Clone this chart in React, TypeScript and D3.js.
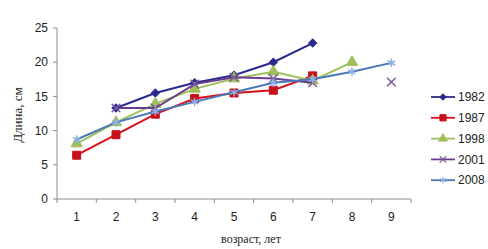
import { useRef, useEffect } from "react";
import * as d3 from "d3";

const ages = ["1", "2", "3", "4", "5", "6", "7", "8", "9"];
const yTicks = [0, 5, 10, 15, 20, 25];

const s1982 = [null, 13.3, 15.5, 17.0, 18.1, 20.0, 22.8, null, null];
const s1987 = [6.4, 9.4, 12.4, 14.7, 15.5, 15.9, 18.0, null, null];
const s1998 = [8.1, 11.2, 13.9, 16.1, 17.6, 18.6, 17.3, 20.0, null];
const s2001 = [null, 13.3, 13.3, 16.8, 17.8, 17.6, 17.0, null, 17.1];
const s2008 = [8.7, 11.2, 12.8, 14.2, 15.6, 17.0, 17.5, 18.6, 19.9];

type Series = { name: string; values: (number | null)[]; color: string; marker: string; symbol: d3.SymbolType; size: number; fill: boolean; rot: number };

const series: Series[] = [
  { name: "1982", values: s1982, color: "#2a2a8e", marker: "#2a2a8e", symbol: d3.symbolSquare, size: 32, fill: true, rot: 45 },
  { name: "1987", values: s1987, color: "#d8101c", marker: "#c8101c", symbol: d3.symbolSquare, size: 64, fill: true, rot: 0 },
  { name: "1998", values: s1998, color: "#9fbf5a", marker: "#9fbf5a", symbol: d3.symbolTriangle, size: 55, fill: true, rot: 0 },
  { name: "2001", values: s2001, color: "#6a3d8c", marker: "#7a5a9c", symbol: d3.symbolTimes, size: 50, fill: false, rot: 0 },
  { name: "2008", values: s2008, color: "#4a78b8", marker: "#8eb0e4", symbol: d3.symbolAsterisk, size: 50, fill: false, rot: 0 },
];

const W = 488;
const H = 249;
const left = 57;
const right = 411;
const top = 28;
const bottom = 199;

export default function App() {
  const ref = useRef<SVGSVGElement | null>(null);

  useEffect(() => {
    if (!ref.current) return;
    const svg = d3.select(ref.current);
    svg.selectAll("*").remove();

    const band = d3.scaleBand<string>().domain(ages).range([left, right]);
    const x = (a: string) => (band(a) ?? 0) + band.bandwidth() / 2;
    const y = d3.scaleLinear().domain([0, 25]).range([bottom, top]);

    const axisColor = "#8c8c8c";
    const labelFont = "Arial, 'Liberation Sans', sans-serif";
    const serif = "'Liberation Serif', 'DejaVu Serif', serif";

    // y axis
    svg.append("line").attr("x1", left).attr("x2", left).attr("y1", y(25)).attr("y2", bottom)
      .attr("stroke", axisColor).attr("stroke-width", 1);
    yTicks.forEach((t) => {
      svg.append("line").attr("x1", left - 4).attr("x2", left).attr("y1", y(t)).attr("y2", y(t))
        .attr("stroke", axisColor);
      svg.append("text").attr("x", left - 9).attr("y", y(t)).attr("dy", "0.35em")
        .attr("text-anchor", "end").attr("font-family", labelFont).attr("font-size", 12)
        .attr("fill", "#222").text(t);
    });

    // x axis
    svg.append("line").attr("x1", left).attr("x2", right).attr("y1", bottom).attr("y2", bottom)
      .attr("stroke", axisColor);
    const bounds = ages.map((a) => band(a) ?? 0).concat([right]);
    bounds.forEach((b) => {
      svg.append("line").attr("x1", b).attr("x2", b).attr("y1", bottom).attr("y2", bottom + 4)
        .attr("stroke", axisColor);
    });
    ages.forEach((a) => {
      svg.append("text").attr("x", x(a)).attr("y", 221).attr("text-anchor", "middle")
        .attr("font-family", labelFont).attr("font-size", 12).attr("fill", "#222").text(a);
    });

    // axis titles
    svg.append("text").attr("x", 251).attr("y", 243).attr("text-anchor", "middle")
      .attr("font-family", serif).attr("font-size", 12)
      .attr("fill", "#222").text("возраст, лет");
    svg.append("text").attr("transform", `translate(22,115) rotate(-90)`).attr("text-anchor", "middle")
      .attr("font-family", serif).attr("font-size", 13)
      .attr("fill", "#222").text("Длина, см");

    const line = d3.line<number | null>()
      .defined((d) => d !== null)
      .x((_, i) => x(ages[i]))
      .y((d) => y(d as number));

    series.forEach((s) => {
      svg.append("path").attr("d", line(s.values) ?? "").attr("fill", "none")
        .attr("stroke", s.color).attr("stroke-width", 2);
      const sym = d3.symbol().type(s.symbol).size(s.size);
      s.values.forEach((v, i) => {
        if (v === null) return;
        svg.append("path").attr("d", sym() ?? "")
          .attr("transform", `translate(${x(ages[i])},${y(v)}) rotate(${s.rot})`)
          .attr("fill", s.fill ? s.marker : "none")
          .attr("stroke", s.marker).attr("stroke-width", s.fill ? 1 : 1.5);
      });
    });

    // legend
    series.forEach((s, i) => {
      const ly = 97 + i * 20.8;
      svg.append("line").attr("x1", 431).attr("x2", 455).attr("y1", ly).attr("y2", ly)
        .attr("stroke", s.color).attr("stroke-width", 1.8);
      svg.append("path").attr("d", d3.symbol().type(s.symbol).size(s.size * 0.6)() ?? "")
        .attr("transform", `translate(443,${ly}) rotate(${s.rot})`)
        .attr("fill", s.fill ? s.marker : "none").attr("stroke", s.marker)
        .attr("stroke-width", s.fill ? 1 : 1.2);
      svg.append("text").attr("x", 458).attr("y", ly).attr("dy", "0.35em")
        .attr("font-family", labelFont).attr("font-size", 12).attr("fill", "#222").text(s.name);
    });
  }, []);

  return (
    <svg ref={ref} width={W} height={H}
      style={{ position: "absolute", left: 0, top: 0, background: "#fff" }} />
  );
}
